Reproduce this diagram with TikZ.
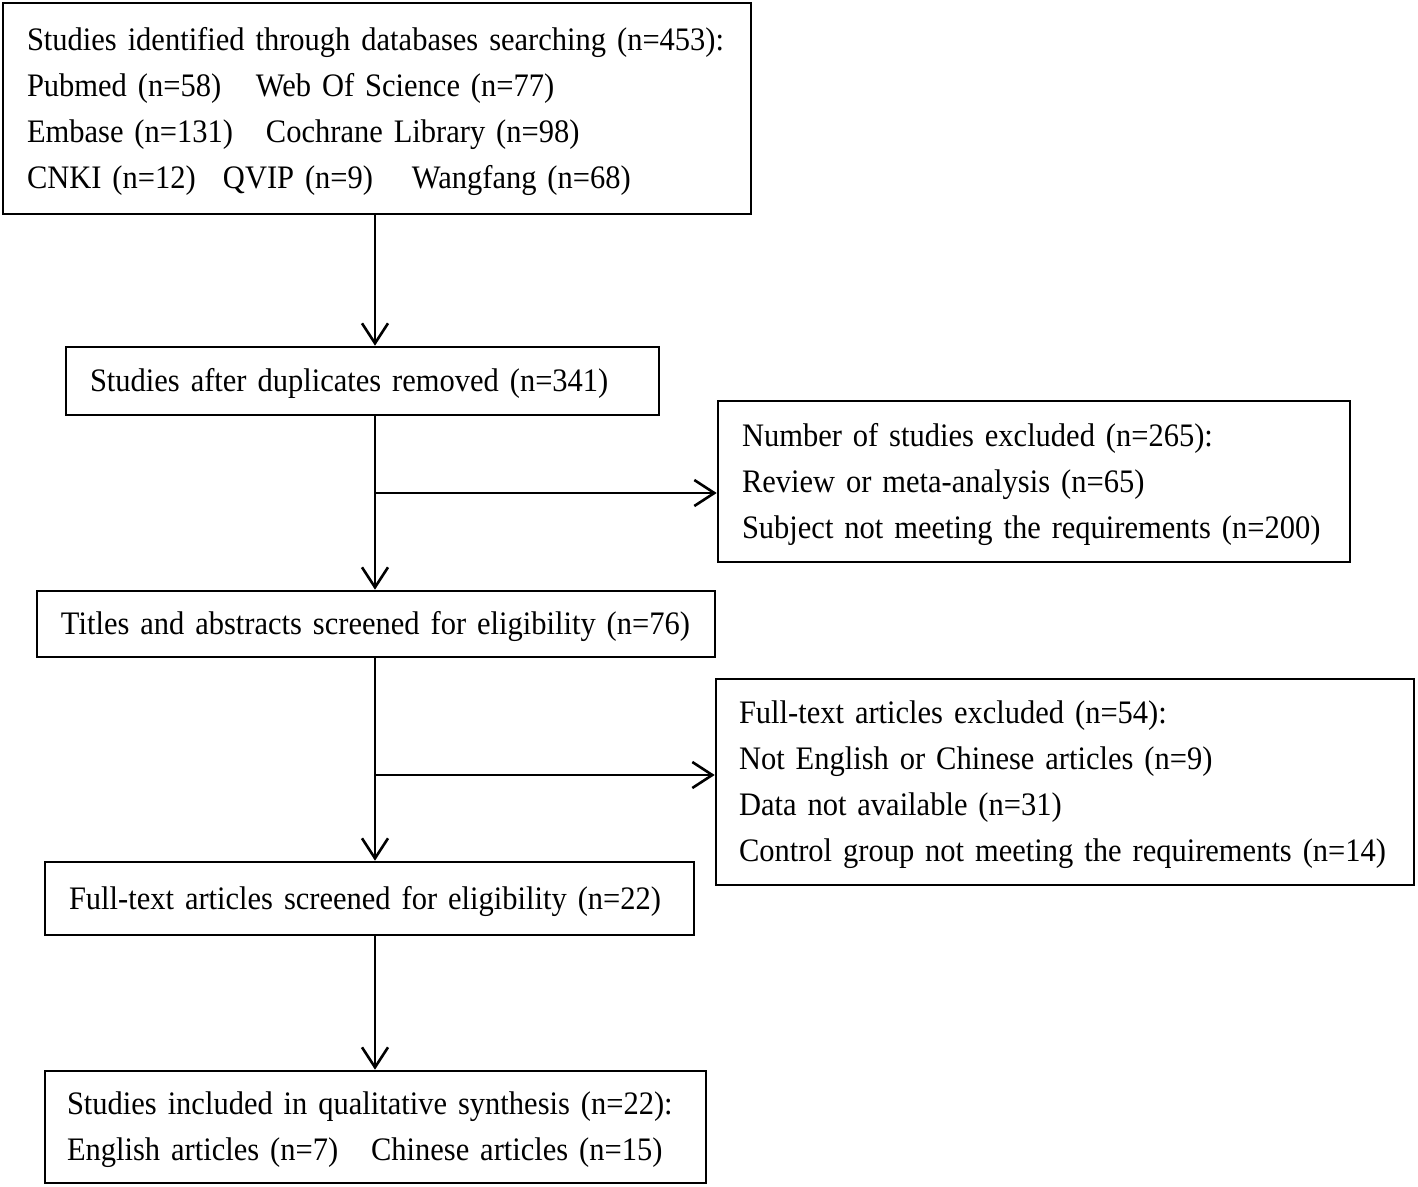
\documentclass[tikz,border=0pt]{standalone}
\usepackage{fontspec}
\setmainfont[FakeStretch=0.93,WordSpace=0.85]{Liberation Serif}
\usetikzlibrary{arrows.meta}
\tikzset{
  box/.style={draw, line width=1.3pt, inner xsep=12pt, inner ysep=0pt, align=left,
    font=\fontsize{16.4pt}{23pt}\selectfont, anchor=center},
  arr/.style={line width=1.3pt, -{Straight Barb[length=10pt,width=13pt,line width=1.3pt]}}
}
\newcommand{\oneline}[1]{\mbox{#1}}
\newcommand{\firstline}[1]{\mbox{\rule{0pt}{14.2pt}#1}}
\begin{document}
\begin{tikzpicture}[x=0.5pt,y=-0.5pt]
\useasboundingbox (0,0) rectangle (1418,1187);
\node[box, text width=350pt, minimum height=105.5pt] (b1) at (377,108.5)
  {\firstline{Studies identified through databases searching (n=453):}\\
   \oneline{\makebox[114.5pt][l]{Pubmed (n=58)}Web Of Science (n=77)}\\
   \oneline{\makebox[119.5pt][l]{Embase (n=131)}Cochrane Library (n=98)}\\
   \oneline{\makebox[98pt][l]{CNKI (n=12)}\makebox[94.5pt][l]{QVIP (n=9)}Wangfang (n=68)}};
\node[box, text width=272.5pt, minimum height=34pt] (b2) at (362.5,381)
  {\firstline{Studies after duplicates removed (n=341)}};
\node[box, text width=292pt, minimum height=80.5pt] (b3) at (1034,481.5)
  {\firstline{Number of studies excluded (n=265):}\\
   \oneline{Review or meta-analysis (n=65)}\\
   \oneline{Subject not meeting the requirements (n=200)}};
\node[box, text width=315pt, minimum height=33pt] (b4) at (376,624)
  {\firstline{Titles and abstracts screened for eligibility (n=76)}};
\node[box, text width=326pt, inner xsep=11.5pt, minimum height=103pt] (b5) at (1065,782)
  {\firstline{Full-text articles excluded (n=54):}\\
   \oneline{Not English or Chinese articles (n=9)}\\
   \oneline{Data not available (n=31)}\\
   \oneline{Control group not meeting the requirements (n=14)}};
\node[box, text width=300.5pt, minimum height=36.5pt] (b6) at (369.5,898.5)
  {\firstline{Full-text articles screened for eligibility (n=22)}};
\node[box, text width=308.5pt, inner xsep=11pt, minimum height=56pt] (b7) at (375.5,1127)
  {\firstline{Studies included in qualitative synthesis (n=22):}\\
   \oneline{\makebox[152pt][l]{English articles (n=7)}Chinese articles (n=15)}};
\coordinate (s) at (375,0);
\coordinate (j1) at (375,493);
\coordinate (j2) at (375,775);
\draw[arr] (b1.south -| s) -- (b2.north -| s);
\draw[arr] (b2.south -| s) -- (b4.north -| s);
\draw[arr] (j1) -- (j1 -| b3.west);
\draw[arr] (b4.south -| s) -- (b6.north -| s);
\draw[arr] (j2) -- (j2 -| b5.west);
\draw[arr] (b6.south -| s) -- (b7.north -| s);
\end{tikzpicture}
\end{document}
